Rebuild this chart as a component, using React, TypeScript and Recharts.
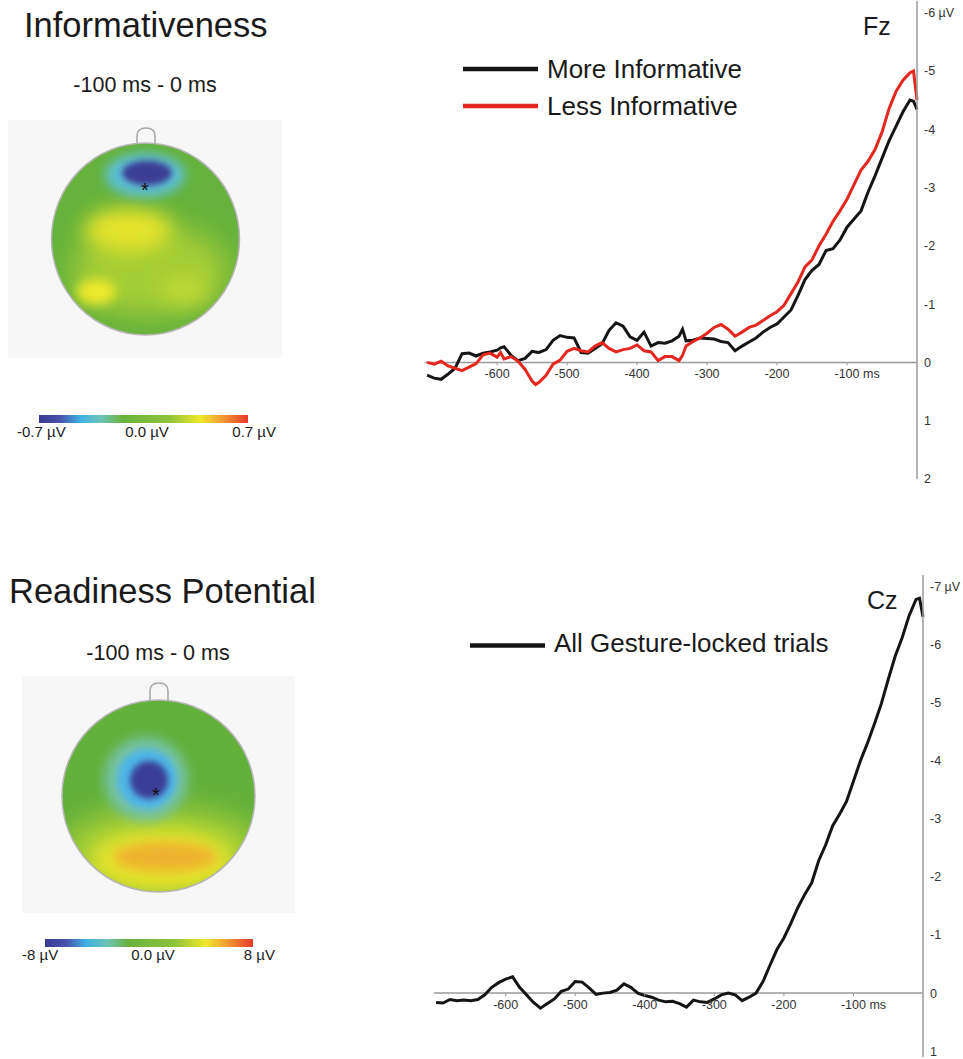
import React from 'react';
import { LineChart, Line, XAxis, YAxis, ReferenceLine, ReferenceDot } from 'recharts';

const FONT = '"Liberation Sans", Arial, Helvetica, sans-serif';

// ---------- Fz (Informativeness) ----------
const fzTimes = [
  -700, -690, -680, -670, -660, -650, -640, -630, -620, -610, -600, -595, -590, -580, -570, -560, -550, -545,
  -540, -530, -520, -510, -500, -490, -480, -470, -460, -450, -440, -430, -420, -410, -400, -390, -380, -370,
  -360, -350, -340, -335, -330, -320, -310, -300, -290, -280, -270, -260, -250, -240, -230, -220, -210, -200,
  -190, -180, -170, -160, -150, -140, -130, -120, -110, -100, -90, -80, -70, -60, -50, -40, -30, -20, -10, -5, 0,
];
const fzMore = [
  0.22, 0.27, 0.29, 0.2, 0.1, -0.15, -0.16, -0.11, -0.16, -0.18, -0.21, -0.25, -0.27, -0.12, -0.03, -0.07, -0.19, -0.18,
  -0.17, -0.22, -0.38, -0.46, -0.43, -0.42, -0.17, -0.16, -0.24, -0.32, -0.55, -0.68, -0.62, -0.44, -0.38, -0.52, -0.28, -0.34,
  -0.33, -0.37, -0.45, -0.57, -0.37, -0.38, -0.42, -0.41, -0.4, -0.36, -0.34, -0.2, -0.28, -0.35, -0.42, -0.52, -0.6, -0.66,
  -0.78, -0.9, -1.15, -1.42, -1.58, -1.68, -1.92, -1.95, -2.1, -2.32, -2.46, -2.6, -2.92, -3.2, -3.5, -3.8, -4.05, -4.3, -4.5, -4.48, -4.34,
];
const fzLess = [
  0.0, 0.03, -0.02, 0.06, 0.1, 0.14, 0.08, 0.02, -0.13, -0.16, -0.09, -0.17, -0.06, -0.1, -0.02, 0.12, 0.32, 0.38,
  0.34, 0.22, 0.03, -0.04, -0.19, -0.24, -0.2, -0.18, -0.28, -0.34, -0.24, -0.18, -0.22, -0.24, -0.3, -0.2, -0.18, -0.03,
  -0.1, -0.1, -0.03, -0.12, -0.28, -0.36, -0.42, -0.5, -0.6, -0.65, -0.57, -0.45, -0.52, -0.6, -0.64, -0.72, -0.8, -0.87,
  -0.98, -1.18, -1.38, -1.64, -1.76, -2.0, -2.2, -2.42, -2.6, -2.8, -3.05, -3.3, -3.45, -3.65, -3.95, -4.35, -4.65, -4.84, -4.97, -5.0, -4.5,
];

// ---------- Cz (Readiness Potential) ----------
const czTimes = [
  -700, -690, -680, -670, -660, -650, -640, -630, -620, -610, -600, -590, -580, -570, -560, -550, -540, -530,
  -520, -510, -500, -490, -480, -470, -460, -450, -440, -430, -420, -410, -400, -390, -380, -370, -360, -350,
  -340, -330, -320, -310, -300, -290, -280, -270, -260, -250, -240, -230, -220, -210, -200, -190, -180, -170,
  -160, -150, -140, -130, -120, -110, -100, -90, -80, -70, -60, -50, -40, -30, -20, -10, -5, 0,
];
const czAll = [
  0.16, 0.17, 0.11, 0.13, 0.12, 0.13, 0.11, 0.03, -0.1, -0.18, -0.24, -0.28, -0.1, 0.03, 0.16, 0.26, 0.18, 0.1,
  -0.03, -0.07, -0.2, -0.19, -0.09, 0.02, 0.0, -0.01, -0.05, -0.16, -0.1, 0.0, 0.04, 0.07, 0.12, 0.15, 0.14, 0.18,
  0.24, 0.12, 0.15, 0.16, 0.1, 0.03, 0.0, 0.03, 0.13, 0.07, 0.0, -0.2, -0.48, -0.75, -0.95, -1.2, -1.47, -1.7,
  -1.9, -2.28, -2.55, -2.88, -3.08, -3.3, -3.65, -4.0, -4.3, -4.63, -4.98, -5.4, -5.8, -6.12, -6.5, -6.78, -6.8, -6.48,
];

const xTicks = [-600, -500, -400, -300, -200, -100];
const fzYTicks = [-6, -5, -4, -3, -2, -1, 0, 1, 2];
const czYTicks = [-7, -6, -5, -4, -3, -2, -1, 0, 1];

const fzSeries = [
  { key: 'more', name: 'More Informative', color: '#151515' },
  { key: 'less', name: 'Less Informative', color: '#e4271f' },
];
const czSeries = [{ key: 'all', name: 'All Gesture-locked trials', color: '#151515' }];

const fzData = fzTimes.map((t, i) => ({ t, more: fzMore[i], less: fzLess[i] }));
const czData = czTimes.map((t, i) => ({ t, all: czAll[i] }));

const AXIS = '#9a9a9a';
const TICK_TEXT = '#333';
const TICK_FS = 12.5;

const renderXTick = (tick: number) => (p: any) => {
  const { cx, cy } = p;
  if (cx == null || cy == null) return <g />;
  return (
    <g>
      <line x1={cx} y1={cy} x2={cx} y2={cy + 3} stroke={AXIS} strokeWidth={1} />
      <text x={cx} y={cy + 16} textAnchor="middle" fontSize={TICK_FS} fill={TICK_TEXT} fontFamily={FONT}>
        {String(tick)}
      </text>
      {tick === -100 ? (
        <text x={cx + 16} y={cy + 16} textAnchor="start" fontSize={TICK_FS} fill={TICK_TEXT} fontFamily={FONT}>
          ms
        </text>
      ) : null}
    </g>
  );
};

const yFormatter = (top: number) => (v: number) => (v === top ? `${v} µV` : String(v));

const colorStops = [
  { o: 0, c: '#3c3b93' },
  { o: 0.1, c: '#4751aa' },
  { o: 0.2, c: '#3fb2e4' },
  { o: 0.3, c: '#6dc3b6' },
  { o: 0.4, c: '#68b33d' },
  { o: 0.62, c: '#8dc23b' },
  { o: 0.77, c: '#efe82b' },
  { o: 0.86, c: '#f2a834' },
  { o: 1, c: '#e8392b' },
];

function Decorations() {
  const txt = { fontFamily: FONT, fill: '#1a1a1a' } as const;
  return (
    <svg width={963} height={1059} style={{ position: 'absolute', left: 0, top: 0 }}>
      <defs>
        <linearGradient id="cbar" x1="0" x2="1" y1="0" y2="0">
          {colorStops.map((s) => (
            <stop key={s.o} offset={s.o} stopColor={s.c} />
          ))}
        </linearGradient>
        <clipPath id="head1">
          <ellipse cx={145.5} cy={239} rx={94} ry={96} />
        </clipPath>
        <clipPath id="head2">
          <ellipse cx={158.5} cy={796} rx={96.5} ry={96} />
        </clipPath>
        <filter id="b3" x="-50%" y="-50%" width="200%" height="200%">
          <feGaussianBlur stdDeviation={3} />
        </filter>
        <filter id="b6" x="-50%" y="-50%" width="200%" height="200%">
          <feGaussianBlur stdDeviation={6} />
        </filter>
        <filter id="b10" x="-50%" y="-50%" width="200%" height="200%">
          <feGaussianBlur stdDeviation={10} />
        </filter>
        <filter id="b14" x="-50%" y="-50%" width="200%" height="200%">
          <feGaussianBlur stdDeviation={14} />
        </filter>
      </defs>

      {/* titles */}
      <text x={24} y={37} fontSize={34.5} {...txt}>Informativeness</text>
      <text x={145} y={92} fontSize={21.5} textAnchor="middle" {...txt}>-100 ms - 0 ms</text>
      <text x={863} y={35} fontSize={25} {...txt}>Fz</text>
      <text x={9} y={603} fontSize={34.5} {...txt}>Readiness Potential</text>
      <text x={158} y={660} fontSize={21.5} textAnchor="middle" {...txt}>-100 ms - 0 ms</text>
      <text x={867} y={609} fontSize={25} {...txt}>Cz</text>

      {/* legends */}
      {fzSeries.map((s, i) => (
        <g key={s.key}>
          <line x1={463} x2={538} y1={69 + i * 37} y2={69 + i * 37} stroke={s.color} strokeWidth={4.5} />
          <text x={547} y={78 + i * 37} fontSize={26} {...txt}>{s.name}</text>
        </g>
      ))}
      {czSeries.map((s) => (
        <g key={s.key}>
          <line x1={470} x2={545} y1={645.5} y2={645.5} stroke={s.color} strokeWidth={4.5} />
          <text x={554} y={652} fontSize={26} {...txt}>{s.name}</text>
        </g>
      ))}

      {/* topomap 1 */}
      <rect x={8} y={120} width={274} height={238} fill="#f8f7f7" />
      <path d="M137,146 L137,136 Q137,128 146,128 Q155,128 155,136 L155,146" fill="none" stroke="#a9a9a9" strokeWidth={1.6} />
      <g clipPath="url(#head1)">
        <ellipse cx={145.5} cy={239} rx={94} ry={96} fill="#66b23c" />
        <ellipse cx={150} cy={270} rx={78} ry={45} fill="#a4cd36" filter="url(#b14)" />
        <ellipse cx={128} cy={230} rx={44} ry={22} fill="#e6e42b" filter="url(#b10)" />
        <ellipse cx={96} cy={292} rx={20} ry={13} fill="#eeea2b" filter="url(#b6)" />
        <ellipse cx={185} cy={290} rx={24} ry={14} fill="#c2d934" filter="url(#b10)" />
        <ellipse cx={145} cy={175} rx={40} ry={22} fill="#5bc0d6" filter="url(#b6)" />
        <ellipse cx={147} cy={173} rx={25} ry={12.5} fill="#3b3c94" filter="url(#b3)" />
      </g>
      <ellipse cx={145.5} cy={239} rx={94} ry={96} fill="none" stroke="#b5b5b5" strokeWidth={1.5} />
      <text x={145} y={197} fontSize={20} textAnchor="middle" fontFamily={FONT} fill="#111">*</text>

      {/* colorbar 1 */}
      <rect x={39} y={415} width={209} height={8} fill="url(#cbar)" />
      <text x={17} y={437} fontSize={15} {...txt}>-0.7 µV</text>
      <text x={147} y={437} fontSize={15} textAnchor="middle" {...txt}>0.0 µV</text>
      <text x={276} y={437} fontSize={15} textAnchor="end" {...txt}>0.7 µV</text>

      {/* topomap 2 */}
      <rect x={22} y={676} width={273} height={237} fill="#f8f7f7" />
      <path d="M150,700 L150,691 Q150,683 159,683 Q168,683 168,691 L168,700" fill="none" stroke="#a9a9a9" strokeWidth={1.6} />
      <g clipPath="url(#head2)">
        <ellipse cx={158.5} cy={796} rx={96.5} ry={96} fill="#63b03b" />
        <ellipse cx={162} cy={848} rx={100} ry={40} fill="#a6cf36" filter="url(#b14)" />
        <ellipse cx={162} cy={862} rx={72} ry={32} fill="#e6e42b" filter="url(#b10)" />
        <ellipse cx={165} cy={857} rx={52} ry={15} fill="#efb22d" filter="url(#b6)" />
        <circle cx={146} cy={779} r={42} fill="#74c2a6" filter="url(#b6)" />
        <circle cx={147} cy={779} r={30} fill="#4fb6e6" filter="url(#b3)" />
        <circle cx={149} cy={780} r={19} fill="#3b3d96" filter="url(#b3)" />
      </g>
      <ellipse cx={158.5} cy={796} rx={96.5} ry={96} fill="none" stroke="#b5b5b5" strokeWidth={1.5} />
      <text x={156} y={802} fontSize={20} textAnchor="middle" fontFamily={FONT} fill="#111">*</text>

      {/* colorbar 2 */}
      <rect x={45} y={939} width={208} height={8} fill="url(#cbar)" />
      <text x={22} y={960} fontSize={15} {...txt}>-8 µV</text>
      <text x={153} y={960} fontSize={15} textAnchor="middle" {...txt}>0.0 µV</text>
      <text x={275} y={960} fontSize={15} textAnchor="end" {...txt}>8 µV</text>
    </svg>
  );
}

export default function App() {
  return (
    <div
      style={{
        position: 'absolute',
        left: 0,
        top: 0,
        width: 963,
        height: 1059,
        background: '#ffffff',
        overflow: 'hidden',
        fontFamily: FONT,
      }}
    >
      <Decorations />

      <div style={{ position: 'absolute', left: 0, top: 0 }}>
        <LineChart width={963} height={500} data={fzData} margin={{ top: 1, right: 6, bottom: 21, left: 425 }}>
          <XAxis type="number" dataKey="t" domain={[-703, 0]} hide />
          <YAxis
            orientation="right"
            type="number"
            domain={[-6.2, 2]}
            reversed
            allowDataOverflow
            ticks={fzYTicks}
            interval={0}
            width={40}
            axisLine={{ stroke: AXIS, strokeWidth: 1.5 }}
            tickLine={false}
            tickSize={3}
            tickMargin={4}
            tick={{ fill: TICK_TEXT, fontSize: TICK_FS, fontFamily: FONT, textAnchor: 'start' }}
            tickFormatter={yFormatter(-6)}
          />
          <ReferenceLine y={0} stroke={AXIS} strokeWidth={1.5} />
          {xTicks.map((t) => (
            <ReferenceDot key={t} x={t} y={0} r={0} ifOverflow="visible" shape={renderXTick(t)} />
          ))}
          {fzSeries.map((s) => (
            <Line
              key={s.key}
              type="linear"
              dataKey={s.key}
              name={s.name}
              stroke={s.color}
              strokeWidth={3}
              dot={false}
              isAnimationActive={false}
            />
          ))}
        </LineChart>
      </div>

      <div style={{ position: 'absolute', left: 0, top: 560 }}>
        <LineChart width={963} height={499} data={czData} margin={{ top: 15, right: 0, bottom: 2, left: 434 }}>
          <XAxis type="number" dataKey="t" domain={[-703, 0]} hide />
          <YAxis
            orientation="right"
            type="number"
            domain={[-7.2, 1.1]}
            reversed
            allowDataOverflow
            ticks={czYTicks}
            interval={0}
            width={40}
            axisLine={{ stroke: AXIS, strokeWidth: 1.5 }}
            tickLine={false}
            tickSize={3}
            tickMargin={4}
            tick={{ fill: TICK_TEXT, fontSize: TICK_FS, fontFamily: FONT, textAnchor: 'start' }}
            tickFormatter={yFormatter(-7)}
          />
          <ReferenceLine y={0} stroke={AXIS} strokeWidth={1.5} />
          {xTicks.map((t) => (
            <ReferenceDot key={t} x={t} y={0} r={0} ifOverflow="visible" shape={renderXTick(t)} />
          ))}
          {czSeries.map((s) => (
            <Line
              key={s.key}
              type="linear"
              dataKey={s.key}
              name={s.name}
              stroke={s.color}
              strokeWidth={3}
              dot={false}
              isAnimationActive={false}
            />
          ))}
        </LineChart>
      </div>
    </div>
  );
}
